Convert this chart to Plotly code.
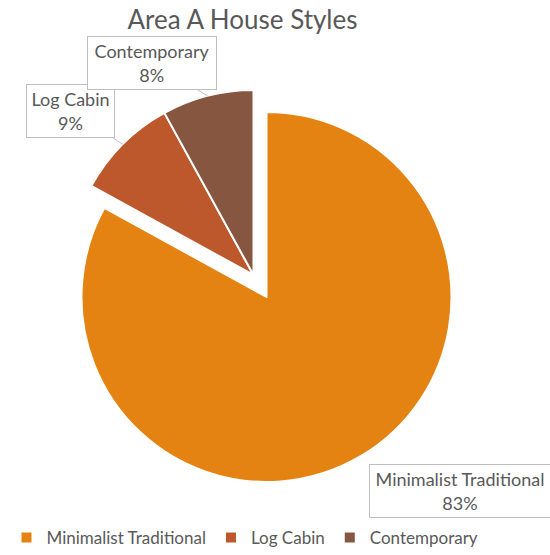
import math
import plotly.graph_objects as go

# House style shares for Area A
styles = ["Minimalist Traditional", "Log Cabin", "Contemporary"]
shares = [83, 9, 8]
colors = ["#E48312", "#BD582C", "#865640"]
pulls = [0.138, 0, 0]

W, H = 550, 555
text_grey = "#595959"
font_family = "Lato, 'Open Sans', sans-serif"

# Pie placement (pixels): centre of the un-pulled pie and its radius
cx, cy, radius = 253.5, 275.0, 185.0
half = radius * (1 + max(pulls))
dom_x = [(cx - half) / W, (cx + half) / W]
dom_y = [1 - (cy + half) / H, 1 - (cy - half) / H]

fig = go.Figure(
    go.Pie(
        labels=styles,
        values=shares,
        sort=False,
        direction="clockwise",
        rotation=0,
        pull=pulls,
        marker=dict(colors=colors, line=dict(color="white", width=2)),
        textinfo="none",
        hoverinfo="label+percent",
        domain=dict(x=dom_x, y=dom_y),
    )
)

# Callout labels: arrow tip sits on the rim at each slice's mid-angle
total = sum(shares)
box_offsets = [(99, 35), (-52, -33), (-55, -33)]
box_sizes = [(180, 52), (87, 52), (128, 52)]
start = 0.0
for name, val, pull, (ox, oy), (bw, bh) in zip(styles, shares, pulls, box_offsets, box_sizes):
    span = 360.0 * val / total
    mid = math.radians(start + span / 2)
    start += span
    px = cx + (radius * pull + radius) * math.sin(mid)
    py = cy - (radius * pull + radius) * math.cos(mid)
    pct = round(100 * val / total)
    fig.add_annotation(
        x=px / W, y=1 - py / H, xref="paper", yref="paper",
        ax=ox, ay=oy, axref="pixel", ayref="pixel",
        text=f"{name}<br>{pct}%",
        showarrow=True, arrowhead=0, arrowwidth=1, arrowcolor="#BFBFBF",
        bordercolor="#BFBFBF", borderwidth=1, borderpad=0, bgcolor="white",
        width=bw, height=bh, align="center", valign="middle",
        font=dict(family=font_family, size=18, color=text_grey),
    )

fig.update_layout(
    width=W, height=H,
    margin=dict(l=0, r=0, t=0, b=0, autoexpand=False),
    paper_bgcolor="white",
    plot_bgcolor="white",
    title=dict(
        text="Area A House Styles",
        x=242.5 / W, xanchor="center",
        y=1 - 20 / H, yanchor="middle",
        font=dict(family=font_family, size=26, color=text_grey),
    ),
    showlegend=True,
    legend=dict(
        orientation="h",
        x=245 / W, xanchor="center",
        y=17 / H, yanchor="middle",
        font=dict(family=font_family, size=17, color=text_grey),
        itemclick=False,
    ),
)

fig.write_html("out.html")
